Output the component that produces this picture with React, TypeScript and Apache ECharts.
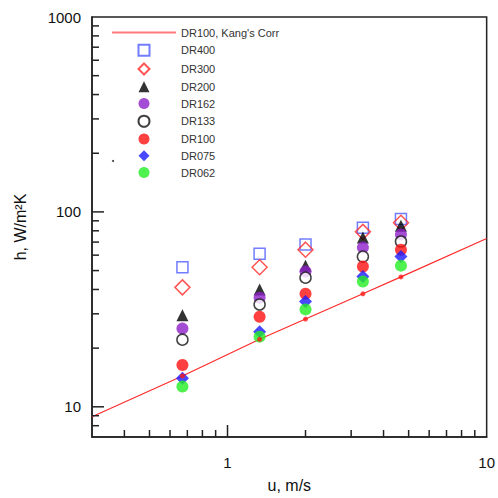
import React, { useEffect, useRef } from "react";
import * as echarts from "echarts";

const uVals = [0.67, 1.33, 2, 3.33, 4.67];
const dr400 = [52, 61, 68, 83, 92];
const dr300 = [41, 52, 64, 79, 88];
const dr200 = [29.5, 40, 53, 74, 85];
const dr162 = [25.2, 36.3, 49.4, 65.7, 76.6];
const dr133 = [22.1, 33.5, 46, 59, 70.5];
const dr100 = [16.4, 29, 38, 52.5, 64];
const dr075 = [14.0, 24.3, 34.7, 46.6, 59];
const dr062 = [12.7, 22.9, 31.6, 43.9, 53];

const kangU = [0.3, 0.67, 1.33, 2, 3.33, 4.67, 10];
const kangH = [8.9, 14.4, 22.2, 28.2, 38.0, 46.4, 73];
const kangDotU = [0.67, 1.33, 2, 3.33, 4.67];
const kangDotH = [14.4, 22.2, 28.2, 38.0, 46.4];

const X_MIN = 0.3;
const X_MAX = 10;
const Y_MIN = 7;
const Y_MAX = 1000;

const xMajorTicks = [1];
const xMinorTicks = [0.4, 0.5, 0.6, 0.7, 0.8, 0.9, 2, 3, 4, 5, 6, 7, 8, 9];
const yMajorTicks = [10, 100];
const yMinorTicks = [8, 9, 20, 30, 40, 50, 60, 70, 80, 90, 200, 300, 400, 500, 600, 700, 800, 900];

const FONT = "'Liberation Sans', Arial, sans-serif";

const ICON_SQUARE = "path://M0,0L10,0L10,10L0,10Z";
const ICON_DIAMOND = "path://M5,0L10,5L5,10L0,5Z";
const ICON_TRIANGLE = "path://M5,0L10,10L0,10Z";
const ICON_LINE = "path://M0,0L64,0L64,2L0,2Z";

const pairs = (xs: number[], ys: number[]) => xs.map((x, i) => [x, ys[i]]);

function tickSeries(values: number[], isX: boolean, len: number) {
  return {
    type: "custom",
    silent: true,
    z: 5,
    data: values.map((v) => (isX ? [v, Y_MIN] : [X_MIN, v])),
    renderItem: (_params: any, api: any) => {
      const p = api.coord([api.value(0), api.value(1)]);
      return {
        type: "line",
        shape: isX
          ? { x1: p[0], y1: p[1], x2: p[0], y2: p[1] - len }
          : { x1: p[0], y1: p[1], x2: p[0] + len, y2: p[1] },
        style: { stroke: "#222", lineWidth: 1.5 },
      };
    },
  };
}

const isPow10 = (v: number) => Math.abs(Math.log10(v) - Math.round(Math.log10(v))) < 1e-6;

export default function App() {
  const ref = useRef<HTMLDivElement>(null);
  useEffect(() => {
    if (!ref.current) return;
    const chart = echarts.init(ref.current, null, { renderer: "svg" });
    const scatter = (name: string, data: number[], symbol: string, size: number, itemStyle: any) => ({
      name,
      type: "scatter",
      symbol,
      symbolSize: size,
      data: pairs(uVals, data),
      itemStyle,
      z: 3,
    });
    chart.setOption({
      animation: false,
      backgroundColor: "#fff",
      textStyle: { fontFamily: FONT },
      grid: {
        left: 92,
        top: 17,
        right: 11,
        bottom: 61,
        show: true,
        borderColor: "#222",
        borderWidth: 1.5,
      },
      legend: {
        orient: "vertical",
        left: 112,
        top: 27,
        padding: 0,
        itemWidth: 64,
        itemHeight: 11,
        itemGap: 5.75,
        textStyle: { fontSize: 11, color: "#333", fontFamily: FONT },
        data: [
          { name: "DR100, Kang's Corr", icon: ICON_LINE, itemStyle: { color: "#ff7a7a" } },
          { name: "DR400", icon: ICON_SQUARE },
          { name: "DR300", icon: ICON_DIAMOND },
          { name: "DR200", icon: ICON_TRIANGLE },
          { name: "DR162", icon: "circle" },
          { name: "DR133", icon: "circle" },
          { name: "DR100", icon: "circle" },
          { name: "DR075", icon: ICON_DIAMOND },
          { name: "DR062", icon: "circle" },
        ],
      },
      xAxis: {
        type: "log",
        min: X_MIN,
        max: X_MAX,
        logBase: 10,
        name: "u, m/s",
        nameLocation: "middle",
        nameGap: 40,
        nameTextStyle: { fontSize: 16, color: "#111", fontFamily: FONT },
        axisLine: { show: true, lineStyle: { color: "#222", width: 1.5 } },
        axisTick: { show: false },
        splitLine: { show: false },
        minorTick: { show: false },
        axisLabel: {
          fontSize: 15,
          color: "#111",
          margin: 18,
          showMinLabel: true,
          formatter: (v: number) => (isPow10(v) ? String(Math.round(v)) : ""),
        },
      },
      yAxis: {
        type: "log",
        min: Y_MIN,
        max: Y_MAX,
        logBase: 10,
        name: "h, W/m\u00b2K",
        nameLocation: "middle",
        nameGap: 64,
        nameTextStyle: { fontSize: 16, color: "#111", fontFamily: FONT },
        axisLine: { show: true, lineStyle: { color: "#222", width: 1.5 } },
        axisTick: { show: false },
        splitLine: { show: false },
        axisLabel: {
          fontSize: 15,
          color: "#111",
          margin: 11,
          formatter: (v: number) => (isPow10(v) ? String(Math.round(v)) : ""),
        },
      },
      series: [
        {
          name: "DR100, Kang's Corr",
          type: "line",
          data: pairs(kangU, kangH),
          symbol: "none",
          lineStyle: { color: "#ff2a2a", width: 1.2 },
          itemStyle: { color: "#ff2a2a" },
          z: 2,
        },
        scatter("DR400", dr400, "rect", 11, { color: "rgba(255,255,255,0)", borderColor: "#4f5bff", borderWidth: 1.5 }),
        scatter("DR300", dr300, "diamond", 15, { color: "rgba(255,255,255,0)", borderColor: "#ff2a2a", borderWidth: 1.5 }),
        scatter("DR200", dr200, "triangle", 12, { color: "#000" }),
        scatter("DR162", dr162, "circle", 12, { color: "#8e1fc9" }),
        scatter("DR133", dr133, "circle", 11, { color: "#fff", borderColor: "#111", borderWidth: 1.5 }),
        scatter("DR100", dr100, "circle", 12, { color: "#ff1010" }),
        scatter("DR075", dr075, "diamond", 13, { color: "#1a1aff" }),
        scatter("DR062", dr062, "circle", 12, { color: "#22ee22" }),
        {
          name: "KangDots",
          type: "scatter",
          symbol: "circle",
          symbolSize: 5,
          data: pairs(kangDotU, kangDotH),
          itemStyle: { color: "#ff1a1a" },
          z: 4,
        },
        tickSeries(xMajorTicks, true, 12),
        tickSeries(xMinorTicks, true, 7),
        tickSeries(yMajorTicks, false, 12),
        tickSeries(yMinorTicks, false, 7),
      ],
      graphic: [
        { type: "circle", shape: { cx: 113, cy: 161, r: 1 }, style: { fill: "#333" } },
      ],
    });
    return () => chart.dispose();
  }, []);
  return (
    <div
      ref={ref}
      style={{ position: "absolute", left: 0, top: 0, width: 498, height: 498 }}
    />
  );
}
